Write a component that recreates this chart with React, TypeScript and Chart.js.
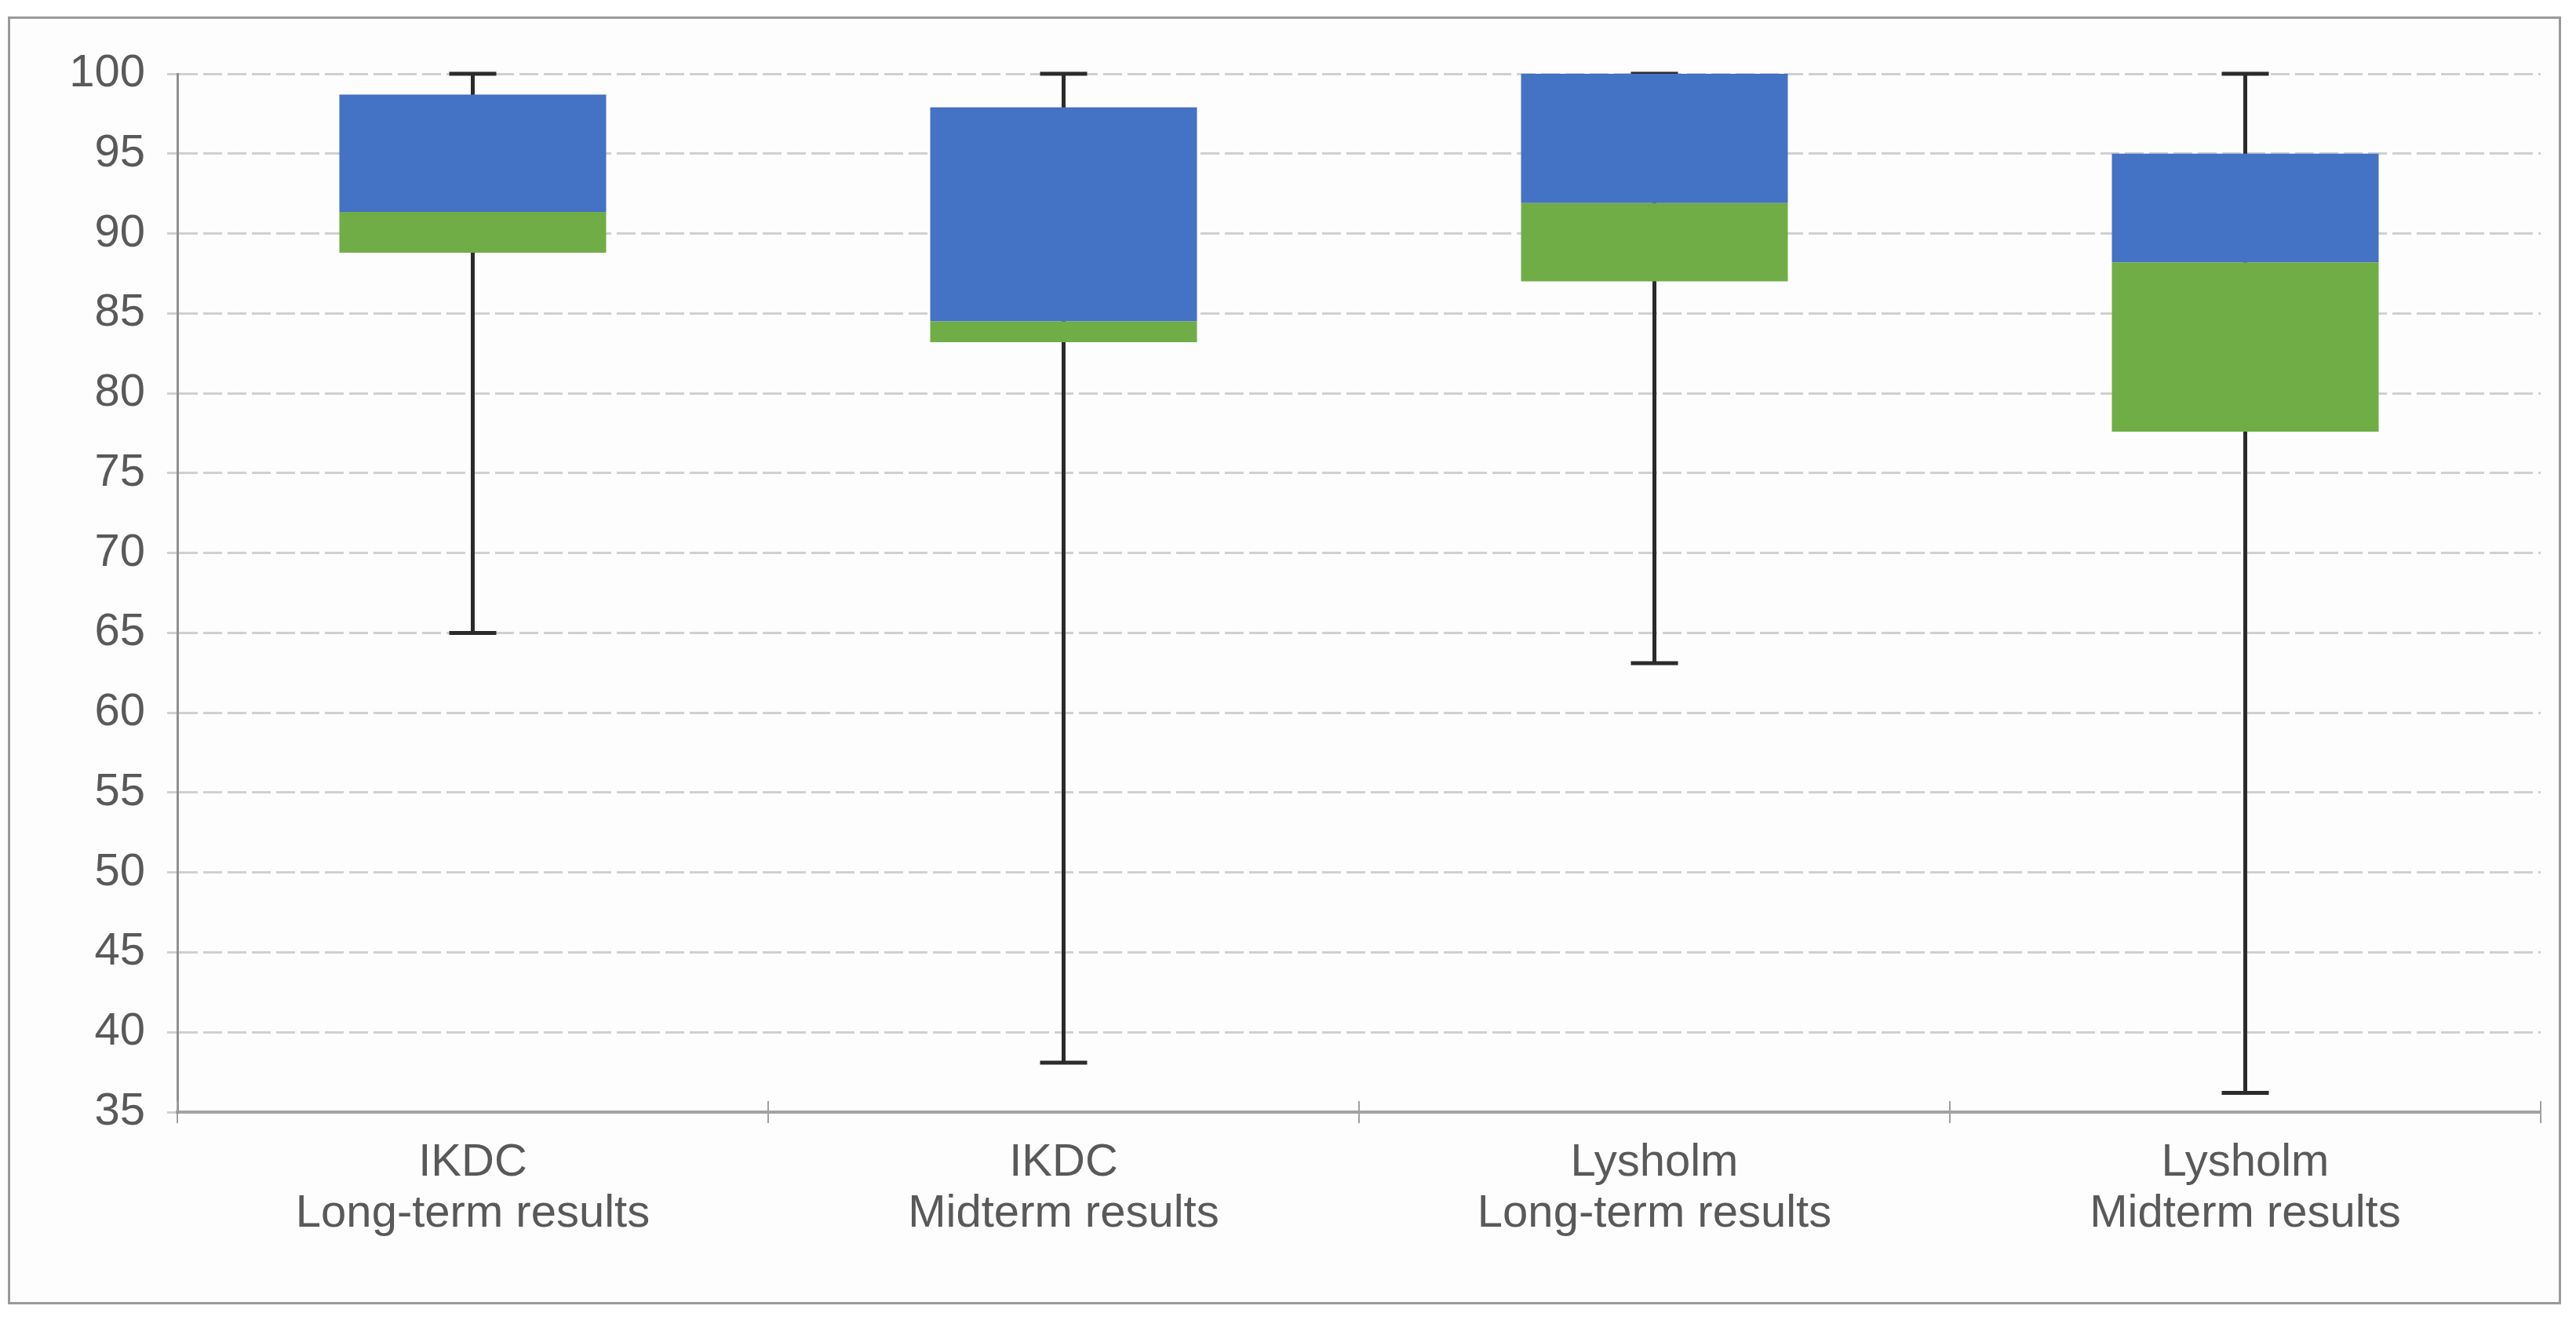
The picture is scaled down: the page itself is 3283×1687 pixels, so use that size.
import React, { useEffect, useRef } from "react";
import { Chart, registerables } from "chart.js";

Chart.register(...registerables);

const categories: string[][] = [
  ["IKDC", "Long-term results"],
  ["IKDC", "Midterm results"],
  ["Lysholm", "Long-term results"],
  ["Lysholm", "Midterm results"],
];
const minValues = [65.0, 38.1, 63.1, 36.2];
const q1Values = [88.8, 83.2, 87.0, 77.6];
const medianValues = [91.35, 84.5, 91.9, 88.2];
const q3Values = [98.7, 97.9, 100.0, 95.0];
const maxValues = [100, 100, 100, 100];
const yMin = 35;
const yMax = 100;
const yStep = 5;

const whiskerPlugin = {
  id: "whiskers",
  beforeDatasetsDraw(chart: any) {
    const { ctx, scales } = chart;
    const x = scales.x;
    const y = scales.y;
    ctx.save();
    ctx.strokeStyle = "#2b2b2b";
    ctx.lineCap = "butt";
    for (let i = 0; i < categories.length; i++) {
      const px = x.getPixelForValue(i);
      const yLo = y.getPixelForValue(minValues[i]);
      const yHi = y.getPixelForValue(maxValues[i]);
      ctx.lineWidth = 5;
      ctx.beginPath();
      ctx.moveTo(px, yLo);
      ctx.lineTo(px, yHi);
      ctx.stroke();
      const half = 30;
      ctx.beginPath();
      ctx.moveTo(px - half, yLo);
      ctx.lineTo(px + half, yLo);
      ctx.moveTo(px - half, yHi);
      ctx.lineTo(px + half, yHi);
      ctx.stroke();
    }
    ctx.restore();
  },
  afterDraw(chart: any) {
    const { ctx, scales } = chart;
    const x = scales.x;
    const yb = chart.chartArea.bottom;
    ctx.save();
    ctx.strokeStyle = "#a0a0a0";
    ctx.lineWidth = 2;
    for (let i = 0; i <= categories.length; i++) {
      const px = x.getPixelForValue(i - 0.5);
      ctx.beginPath();
      ctx.moveTo(px, yb - 14);
      ctx.lineTo(px, yb);
      ctx.stroke();
    }
    ctx.restore();
  },
};

export default function App() {
  const ref = useRef<HTMLCanvasElement>(null);
  useEffect(() => {
    if (!ref.current) return;
    const chart = new Chart(ref.current, {
      type: "bar",
      data: {
        labels: categories,
        datasets: [
          {
            label: "Lower",
            data: q1Values.map((v, i) => [v, medianValues[i]]),
            backgroundColor: "#70AD47",
            borderWidth: 0,
            grouped: false,
            categoryPercentage: 1,
            barPercentage: 0.4515,
          },
          {
            label: "Upper",
            data: medianValues.map((v, i) => [v, q3Values[i]]),
            backgroundColor: "#4472C4",
            borderWidth: 0,
            grouped: false,
            categoryPercentage: 1,
            barPercentage: 0.4515,
          },
        ],
      } as any,
      options: {
        responsive: false,
        animation: false,
        devicePixelRatio: 1,
        layout: { padding: { top: 70, right: 23, bottom: 0, left: 0 } },
        plugins: {
          legend: { display: false },
          tooltip: { enabled: false },
          title: { display: false },
        },
        scales: {
          x: {
            offset: true,
            grid: {
              offset: true,
              drawOnChartArea: false,
              drawTicks: true,
              tickLength: 14,
              color: "#a0a0a0",
              lineWidth: 2,
            },
            border: { display: true, color: "#a3a3a3", width: 4 },
            ticks: {
              color: "#595959",
              padding: 18,
              font: { family: "'Liberation Sans', Arial, sans-serif", size: 58, lineHeight: 1.13 },
              maxRotation: 0,
              autoSkip: false,
            },
            afterFit(scale: any) {
              scale.height = 242;
            },
          },
          y: {
            min: yMin,
            max: yMax,
            ticks: {
              stepSize: yStep,
              color: "#595959",
              padding: 28,
              font: { family: "'Liberation Sans', Arial, sans-serif", size: 58 },
            },
            grid: {
              color: "#d0d0d0",
              lineWidth: 3,
              tickLength: 13,
              tickBorderDash: [24, 7],
            },
            border: { display: true, color: "#8f8f8f", width: 3, dash: [24, 7] },
            afterFit(scale: any) {
              scale.width = 213;
            },
          },
        },
      } as any,
      plugins: [whiskerPlugin],
    });
    return () => chart.destroy();
  }, []);

  return (
    <div
      style={{
        marginTop: 13,
        marginLeft: 2,
        width: 3254,
        height: 1641,
        border: "3px solid #9a9a9a",
        boxSizing: "border-box",
        background: "#fdfdfd",
      }}
    >
      <canvas ref={ref} width={3248} height={1635} style={{ display: "block", width: 3248, height: 1635 }} />
    </div>
  );
}
